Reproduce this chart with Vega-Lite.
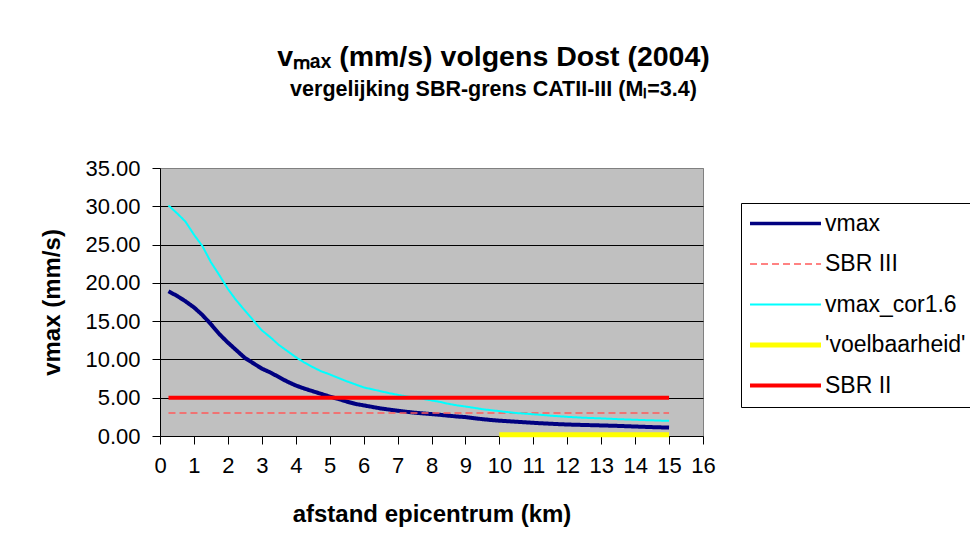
{
  "$schema": "https://vega.github.io/schema/vega-lite/v6.json",
  "autosize": {"type": "none"},
  "width": 543,
  "height": 268,
  "padding": {"left": 160, "top": 168, "right": 267, "bottom": 117},
  "background": "white",
  "title": {
    "text": "vₘₐₓ (mm/s) volgens Dost (2004)",
    "subtitle": "vergelijking SBR-grens CATII-III (Mₗ=3.4)",
    "anchor": "middle",
    "dx": 62,
    "offset": 57,
    "font": "Liberation Sans",
    "fontSize": 28.5,
    "fontWeight": "bold",
    "color": "black",
    "subtitleFont": "Liberation Sans",
    "subtitleFontSize": 21.5,
    "subtitleFontWeight": "bold",
    "subtitleColor": "black",
    "subtitlePadding": 7
  },
  "data": {
    "values": [
      {"afstand": 0.25, "v": 18.9, "serie": "vmax"},
      {"afstand": 0.5, "v": 18.3, "serie": "vmax"},
      {"afstand": 0.75, "v": 17.6, "serie": "vmax"},
      {"afstand": 1, "v": 16.8, "serie": "vmax"},
      {"afstand": 1.25, "v": 15.8, "serie": "vmax"},
      {"afstand": 1.5, "v": 14.6, "serie": "vmax"},
      {"afstand": 1.75, "v": 13.3, "serie": "vmax"},
      {"afstand": 2, "v": 12.2, "serie": "vmax"},
      {"afstand": 2.25, "v": 11.2, "serie": "vmax"},
      {"afstand": 2.5, "v": 10.2, "serie": "vmax"},
      {"afstand": 2.75, "v": 9.5, "serie": "vmax"},
      {"afstand": 3, "v": 8.8, "serie": "vmax"},
      {"afstand": 3.25, "v": 8.3, "serie": "vmax"},
      {"afstand": 3.5, "v": 7.7, "serie": "vmax"},
      {"afstand": 3.75, "v": 7.1, "serie": "vmax"},
      {"afstand": 4, "v": 6.6, "serie": "vmax"},
      {"afstand": 4.25, "v": 6.2, "serie": "vmax"},
      {"afstand": 4.5, "v": 5.85, "serie": "vmax"},
      {"afstand": 4.75, "v": 5.5, "serie": "vmax"},
      {"afstand": 5, "v": 5.15, "serie": "vmax"},
      {"afstand": 5.25, "v": 4.85, "serie": "vmax"},
      {"afstand": 5.5, "v": 4.5, "serie": "vmax"},
      {"afstand": 5.75, "v": 4.2, "serie": "vmax"},
      {"afstand": 6, "v": 4.0, "serie": "vmax"},
      {"afstand": 6.25, "v": 3.8, "serie": "vmax"},
      {"afstand": 6.5, "v": 3.6, "serie": "vmax"},
      {"afstand": 6.75, "v": 3.45, "serie": "vmax"},
      {"afstand": 7, "v": 3.3, "serie": "vmax"},
      {"afstand": 7.25, "v": 3.17, "serie": "vmax"},
      {"afstand": 7.5, "v": 3.05, "serie": "vmax"},
      {"afstand": 7.75, "v": 2.95, "serie": "vmax"},
      {"afstand": 8, "v": 2.86, "serie": "vmax"},
      {"afstand": 8.25, "v": 2.77, "serie": "vmax"},
      {"afstand": 8.5, "v": 2.65, "serie": "vmax"},
      {"afstand": 8.75, "v": 2.55, "serie": "vmax"},
      {"afstand": 9, "v": 2.47, "serie": "vmax"},
      {"afstand": 9.25, "v": 2.33, "serie": "vmax"},
      {"afstand": 9.5, "v": 2.2, "serie": "vmax"},
      {"afstand": 9.75, "v": 2.09, "serie": "vmax"},
      {"afstand": 10, "v": 2.0, "serie": "vmax"},
      {"afstand": 10.25, "v": 1.93, "serie": "vmax"},
      {"afstand": 10.5, "v": 1.86, "serie": "vmax"},
      {"afstand": 10.75, "v": 1.79, "serie": "vmax"},
      {"afstand": 11, "v": 1.72, "serie": "vmax"},
      {"afstand": 11.25, "v": 1.66, "serie": "vmax"},
      {"afstand": 11.5, "v": 1.6, "serie": "vmax"},
      {"afstand": 11.75, "v": 1.55, "serie": "vmax"},
      {"afstand": 12, "v": 1.5, "serie": "vmax"},
      {"afstand": 12.25, "v": 1.47, "serie": "vmax"},
      {"afstand": 12.5, "v": 1.44, "serie": "vmax"},
      {"afstand": 12.75, "v": 1.41, "serie": "vmax"},
      {"afstand": 13, "v": 1.38, "serie": "vmax"},
      {"afstand": 13.25, "v": 1.35, "serie": "vmax"},
      {"afstand": 13.5, "v": 1.32, "serie": "vmax"},
      {"afstand": 13.75, "v": 1.28, "serie": "vmax"},
      {"afstand": 14, "v": 1.24, "serie": "vmax"},
      {"afstand": 14.25, "v": 1.2, "serie": "vmax"},
      {"afstand": 14.5, "v": 1.16, "serie": "vmax"},
      {"afstand": 14.75, "v": 1.13, "serie": "vmax"},
      {"afstand": 15, "v": 1.1, "serie": "vmax"},
      {"afstand": 0.25, "v": 3, "serie": "SBR III"},
      {"afstand": 15, "v": 3, "serie": "SBR III"},
      {"afstand": 0.25, "v": 30.1, "serie": "vmax_cor1.6"},
      {"afstand": 0.5, "v": 29.1, "serie": "vmax_cor1.6"},
      {"afstand": 0.75, "v": 28.0, "serie": "vmax_cor1.6"},
      {"afstand": 1, "v": 26.3, "serie": "vmax_cor1.6"},
      {"afstand": 1.25, "v": 24.8, "serie": "vmax_cor1.6"},
      {"afstand": 1.5, "v": 22.7, "serie": "vmax_cor1.6"},
      {"afstand": 1.75, "v": 21.0, "serie": "vmax_cor1.6"},
      {"afstand": 2, "v": 19.2, "serie": "vmax_cor1.6"},
      {"afstand": 2.25, "v": 17.7, "serie": "vmax_cor1.6"},
      {"afstand": 2.5, "v": 16.4, "serie": "vmax_cor1.6"},
      {"afstand": 2.75, "v": 15.1, "serie": "vmax_cor1.6"},
      {"afstand": 3, "v": 13.8, "serie": "vmax_cor1.6"},
      {"afstand": 3.25, "v": 12.9, "serie": "vmax_cor1.6"},
      {"afstand": 3.5, "v": 11.9, "serie": "vmax_cor1.6"},
      {"afstand": 3.75, "v": 11.1, "serie": "vmax_cor1.6"},
      {"afstand": 4, "v": 10.3, "serie": "vmax_cor1.6"},
      {"afstand": 4.25, "v": 9.6, "serie": "vmax_cor1.6"},
      {"afstand": 4.5, "v": 9.0, "serie": "vmax_cor1.6"},
      {"afstand": 4.75, "v": 8.45, "serie": "vmax_cor1.6"},
      {"afstand": 5, "v": 8.05, "serie": "vmax_cor1.6"},
      {"afstand": 5.25, "v": 7.6, "serie": "vmax_cor1.6"},
      {"afstand": 5.5, "v": 7.15, "serie": "vmax_cor1.6"},
      {"afstand": 5.75, "v": 6.75, "serie": "vmax_cor1.6"},
      {"afstand": 6, "v": 6.35, "serie": "vmax_cor1.6"},
      {"afstand": 6.25, "v": 6.1, "serie": "vmax_cor1.6"},
      {"afstand": 6.5, "v": 5.85, "serie": "vmax_cor1.6"},
      {"afstand": 6.75, "v": 5.6, "serie": "vmax_cor1.6"},
      {"afstand": 7, "v": 5.38, "serie": "vmax_cor1.6"},
      {"afstand": 7.25, "v": 5.18, "serie": "vmax_cor1.6"},
      {"afstand": 7.5, "v": 5.0, "serie": "vmax_cor1.6"},
      {"afstand": 7.75, "v": 4.85, "serie": "vmax_cor1.6"},
      {"afstand": 8, "v": 4.65, "serie": "vmax_cor1.6"},
      {"afstand": 8.25, "v": 4.45, "serie": "vmax_cor1.6"},
      {"afstand": 8.5, "v": 4.2, "serie": "vmax_cor1.6"},
      {"afstand": 8.75, "v": 4.0, "serie": "vmax_cor1.6"},
      {"afstand": 9, "v": 3.85, "serie": "vmax_cor1.6"},
      {"afstand": 9.25, "v": 3.68, "serie": "vmax_cor1.6"},
      {"afstand": 9.5, "v": 3.5, "serie": "vmax_cor1.6"},
      {"afstand": 9.75, "v": 3.37, "serie": "vmax_cor1.6"},
      {"afstand": 10, "v": 3.25, "serie": "vmax_cor1.6"},
      {"afstand": 10.25, "v": 3.12, "serie": "vmax_cor1.6"},
      {"afstand": 10.5, "v": 3.0, "serie": "vmax_cor1.6"},
      {"afstand": 10.75, "v": 2.92, "serie": "vmax_cor1.6"},
      {"afstand": 11, "v": 2.84, "serie": "vmax_cor1.6"},
      {"afstand": 11.25, "v": 2.75, "serie": "vmax_cor1.6"},
      {"afstand": 11.5, "v": 2.66, "serie": "vmax_cor1.6"},
      {"afstand": 11.75, "v": 2.58, "serie": "vmax_cor1.6"},
      {"afstand": 12, "v": 2.5, "serie": "vmax_cor1.6"},
      {"afstand": 12.25, "v": 2.44, "serie": "vmax_cor1.6"},
      {"afstand": 12.5, "v": 2.38, "serie": "vmax_cor1.6"},
      {"afstand": 12.75, "v": 2.34, "serie": "vmax_cor1.6"},
      {"afstand": 13, "v": 2.3, "serie": "vmax_cor1.6"},
      {"afstand": 13.25, "v": 2.25, "serie": "vmax_cor1.6"},
      {"afstand": 13.5, "v": 2.2, "serie": "vmax_cor1.6"},
      {"afstand": 13.75, "v": 2.16, "serie": "vmax_cor1.6"},
      {"afstand": 14, "v": 2.12, "serie": "vmax_cor1.6"},
      {"afstand": 14.25, "v": 2.08, "serie": "vmax_cor1.6"},
      {"afstand": 14.5, "v": 2.05, "serie": "vmax_cor1.6"},
      {"afstand": 14.75, "v": 2.01, "serie": "vmax_cor1.6"},
      {"afstand": 15, "v": 1.98, "serie": "vmax_cor1.6"},
      {"afstand": 10, "v": 0.15, "serie": "'voelbaarheid'"},
      {"afstand": 15, "v": 0.15, "serie": "'voelbaarheid'"},
      {"afstand": 0.25, "v": 5, "serie": "SBR II"},
      {"afstand": 15, "v": 5, "serie": "SBR II"}
    ]
  },
  "mark": {"type": "line", "clip": false, "strokeCap": "butt"},
  "encoding": {
    "x": {
      "field": "afstand",
      "type": "quantitative",
      "scale": {"domain": [0, 16], "nice": false, "zero": false},
      "axis": {
        "title": "afstand epicentrum (km)",
        "values": [0, 1, 2, 3, 4, 5, 6, 7, 8, 9, 10, 11, 12, 13, 14, 15, 16],
        "format": "d",
        "grid": false,
        "domainColor": "black",
        "tickColor": "black",
        "tickSize": 8,
        "labelFont": "Liberation Sans",
        "labelFontSize": 22,
        "labelColor": "black",
        "labelPadding": 11,
        "labelFlush": false,
        "labelOverlap": false,
        "titleFont": "Liberation Sans",
        "titleFontSize": 24,
        "titleFontWeight": "bold",
        "titleColor": "black",
        "titlePadding": 26
      }
    },
    "y": {
      "field": "v",
      "type": "quantitative",
      "scale": {"domain": [0, 35], "nice": false},
      "axis": {
        "title": "vmax (mm/s)",
        "values": [0, 5, 10, 15, 20, 25, 30, 35],
        "format": ".2f",
        "grid": true,
        "gridColor": {"condition": {"test": "datum.value === 35 || datum.value === 0", "value": "#808080"}, "value": "black"},
        "gridWidth": 1,
        "gridOpacity": 1,
        "domainColor": "black",
        "tickColor": "black",
        "tickSize": 8,
        "labelFont": "Liberation Sans",
        "labelFontSize": 22,
        "labelColor": "black",
        "labelPadding": 12,
        "labelFlush": false,
        "labelOverlap": false,
        "titleFont": "Liberation Sans",
        "titleFontSize": 24,
        "titleFontWeight": "bold",
        "titleColor": "black",
        "titlePadding": 20
      }
    },
    "color": {
      "field": "serie",
      "type": "nominal",
      "scale": {
        "domain": ["vmax", "SBR III", "vmax_cor1.6", "'voelbaarheid'", "SBR II"],
        "range": ["#000080", "#ff5a5a", "#00ffff", "#ffff00", "#ff0000"]
      },
      "legend": {
        "title": null,
        "orient": "none",
        "legendX": 581,
        "legendY": 35,
        "padding": 9,
        "strokeColor": "black",
        "fillColor": "white",
        "labelFont": "Liberation Sans",
        "labelFontSize": 23,
        "labelColor": "black",
        "labelLimit": 400,
        "rowPadding": 16.5,
        "symbolType": "M-11.83,0H11.83",
        "symbolSize": 36,
        "symbolOffset": 24,
        "labelOffset": 28,
        "encode": {
          "symbols": {
            "update": {
              "strokeWidth": {"signal": "datum.value === 'SBR II' ? 4 : datum.value === \"'voelbaarheid'\" ? 5 : datum.value === 'vmax_cor1.6' ? 2 : datum.value === 'SBR III' ? 1.5 : 3.5"}
            }
          }
        }
      }
    },
    "strokeWidth": {
      "condition": [
        {"test": "datum.serie === 'SBR II'", "value": 4},
        {"test": "datum.serie === \"'voelbaarheid'\"", "value": 5},
        {"test": "datum.serie === 'vmax_cor1.6'", "value": 2},
        {"test": "datum.serie === 'SBR III'", "value": 1.5}
      ],
      "value": 4
    },
    "strokeDash": {
      "field": "serie",
      "type": "nominal",
      "scale": {
        "domain": ["vmax", "SBR III", "vmax_cor1.6", "'voelbaarheid'", "SBR II"],
        "range": [[1, 0], [7, 4], [1, 0], [1, 0], [1, 0]]
      }
    }
  },
  "config": {
    "font": "Liberation Sans",
    "view": {"fill": "#c0c0c0", "stroke": "#808080", "strokeWidth": 1},
    "legend": {
      "symbolType": "M-11.83,0H11.83",
      "symbolSize": 36,
      "symbolOffset": 24,
      "labelOffset": 28,
      "labelFontSize": 23,
      "labelFont": "Liberation Sans",
      "rowPadding": 16.5
    }
  }
}
